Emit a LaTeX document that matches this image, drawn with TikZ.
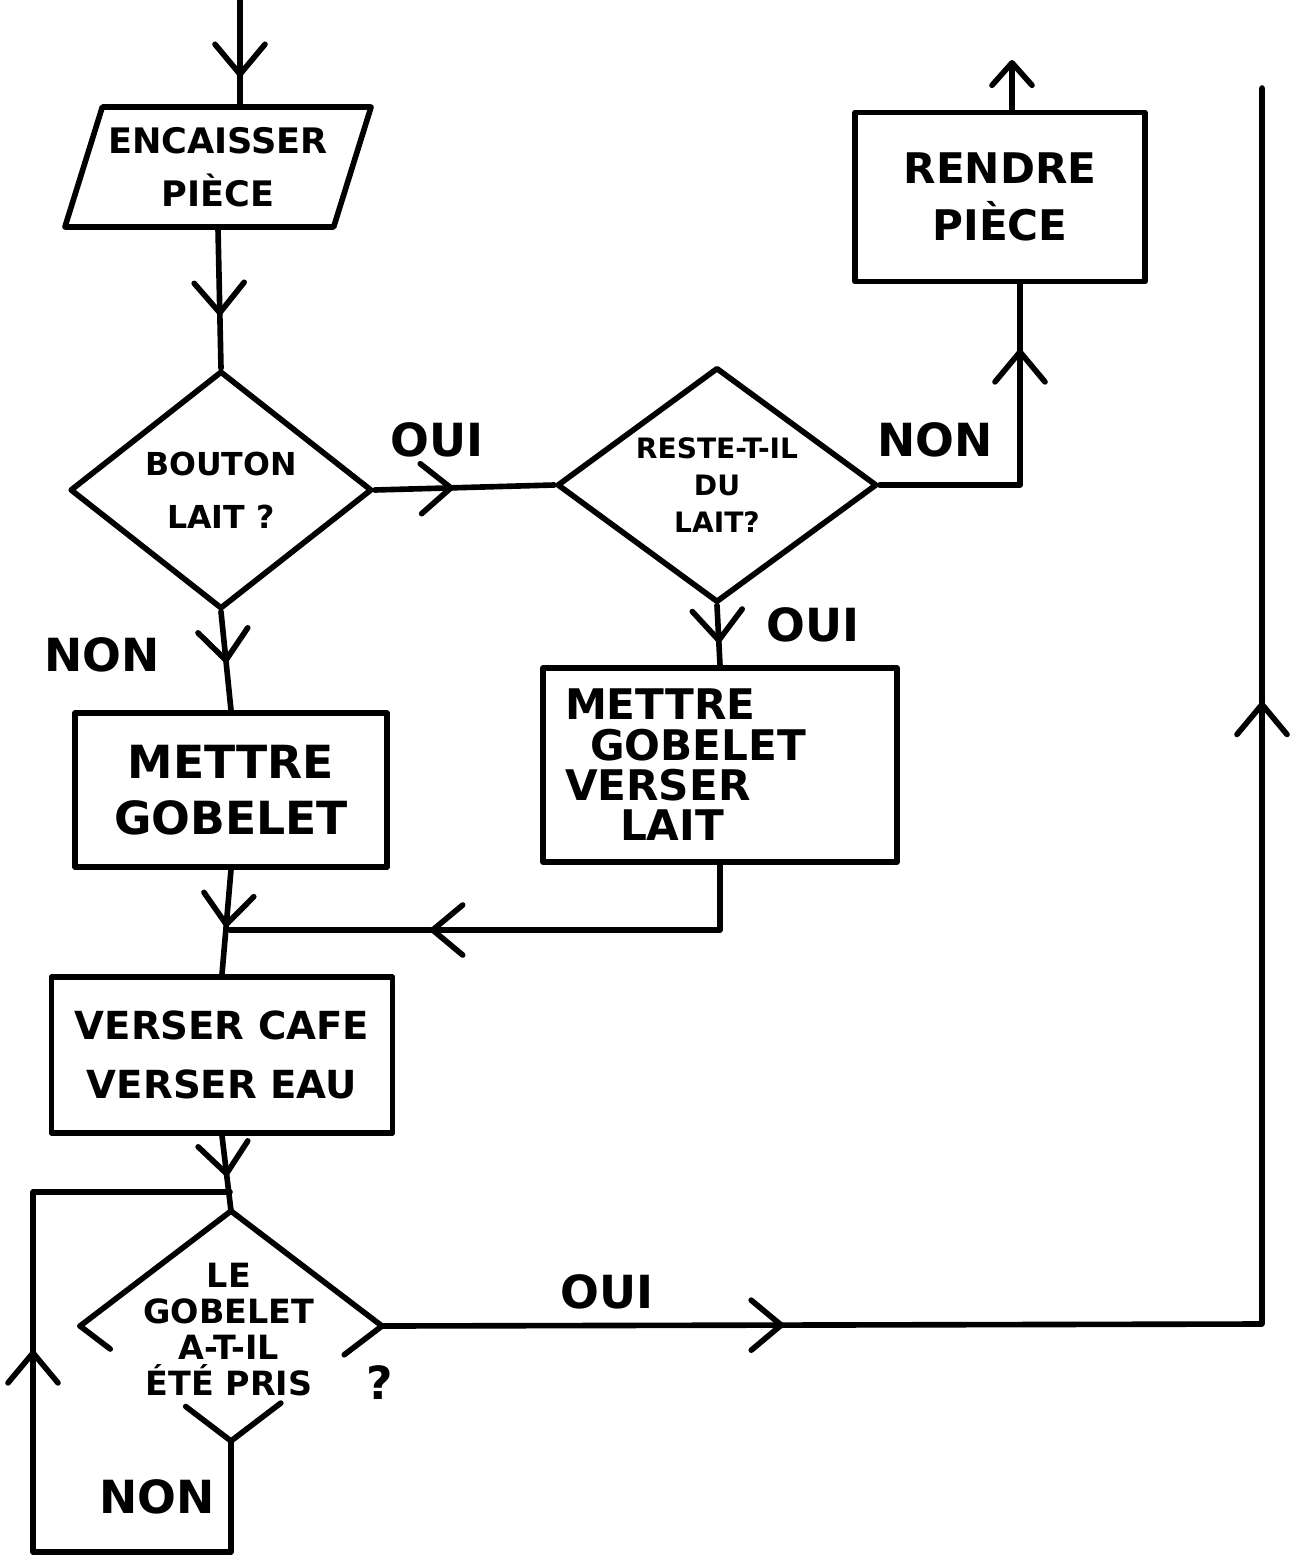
\documentclass[tikz,border=0pt]{standalone}
\usepackage{fontspec}
\setmainfont{DejaVu Sans}
\usetikzlibrary{shapes.geometric,arrows.meta,decorations.markings,calc}

\begin{document}
\begin{tikzpicture}[x=0.02cm, y=-0.02cm, line width=3.2pt, line cap=round, line join=round,
    main/.style = {draw, line width=3.2pt, inner sep=2pt, align=center},
    box/.style = {main, rectangle},
    test/.style = {main, diamond, inner sep=0pt},
    lbl/.style = {font=\fontsize{26}{30}\selectfont\bfseries},
    arr/.style = {postaction={decorate, decoration={markings,
        mark=at position #1 with {\arrow{Straight Barb[length=0.6cm, width=1.0cm, round]}}}}}]

    \useasboundingbox (0,0) rectangle (1306,1564);

    \node[main, trapezium, trapezium left angle=67, trapezium right angle=113, trapezium stretches=true,
        minimum width=6.14cm, minimum height=2.4cm, font=\fontsize{20}{30}\selectfont\bfseries] (1) at (218,167) {ENCAISSER\\PIÈCE};
    \node[test, minimum width=6.04cm, minimum height=4.76cm, font=\fontsize{18}{30}\selectfont\bfseries] (2) at (221,490) {BOUTON\\LAIT ?};
    \node[test, aspect=1.4, inner sep=-3pt, minimum width=6.4cm, minimum height=4.7cm,
        font=\fontsize{16}{21}\selectfont\bfseries] (3) at (717,485) {RESTE-T-IL\\DU\\LAIT?};
    \node[box, minimum width=5.8cm, minimum height=3.38cm, font=\fontsize{24}{32}\selectfont\bfseries] (4) at (1000,197) {RENDRE\\PIÈCE};
    \node[box, minimum width=7.08cm, minimum height=3.88cm, text width=6.2cm, align=left,
        font=\fontsize{24}{23}\selectfont\bfseries] (5) at (720,765) {METTRE\\\hspace{0.5cm}GOBELET\\VERSER\\\hspace{1.1cm}LAIT};
    \node[box, minimum width=6.24cm, minimum height=3.08cm, font=\fontsize{26}{32}\selectfont\bfseries] (6) at (231,790) {METTRE\\GOBELET};
    \node[box, minimum width=6.82cm, minimum height=3.12cm, font=\fontsize{22}{34}\selectfont\bfseries] (7) at (222,1055) {VERSER CAFE\\VERSER EAU};
    \node[test, draw=none, outer sep=0pt, minimum width=6.04cm, minimum height=4.6cm] (8) at (231,1326) {};
    \node[font=\fontsize{19}{20.5}\selectfont\bfseries, align=center] (8t) at (229,1330) {LE\\GOBELET\\A-T-IL\\ÉTÉ PRIS};

    \node[lbl] (o1) at (437,440) {OUI};
    \node[lbl] (n1) at (935,440) {NON};
    \node[lbl] (o2) at (813,625) {OUI};
    \node[lbl] (n2) at (102,655) {NON};
    \node[lbl] (o3) at (607,1292) {OUI};
    \node[lbl] (n3) at (157,1497) {NON};
    \node[lbl] (q) at (380,1383) {?};

    \coordinate (in) at (240,0);
    \coordinate (r1) at (1020,0);
    \coordinate (out) at (1012,60);
    \coordinate (j1) at (230,930);
    \coordinate (j2) at (230,1192);
    \coordinate (l1) at (33,1552);
    \coordinate (l2) at (33,1192);
    \coordinate (r2) at (1262,1324);
    \coordinate (t1) at (1262,88);

    \draw (8.west) -- (8.north) -- (8.east);
    \draw (8.west) -- ($(8.west)!0.2!(8.south)$);
    \draw (8.east) -- ($(8.east)!0.25!(8.south)$);
    \draw ($(8.south)!0.3!(8.west)$) -- (8.south) -- ($(8.south)!0.33!(8.east)$);

    \draw[arr=0.74] (in) -- (in |- 1.north);
    \draw[arr=0.62] (1.south) -- (2.north);
    \draw[arr=0.44] (2.east) -- (3.west);
    \draw[arr=0.81] (3.east) -| (4.south -| r1);
    \draw[-{Straight Barb[length=0.45cm, width=0.8cm, round]}] (4.north -| out) -- (out);
    \draw[arr=0.63] (3.south) -- (5.north);
    \draw[arr=0.52] (2.south) -- (6.north);
    \draw[arr=0.64] (5.south) |- (j1);
    \draw[arr=0.55] (6.south) -- (7.north);
    \draw[arr=0.54] (7.south) -- (8.north);
    \draw[arr=0.59] (8.south) |- (l1) -- (l2) -- (j2);
    \draw[arr=0.19, arr=0.71] (8.east) -- (r2) -- (t1);

\end{tikzpicture}
\end{document}
